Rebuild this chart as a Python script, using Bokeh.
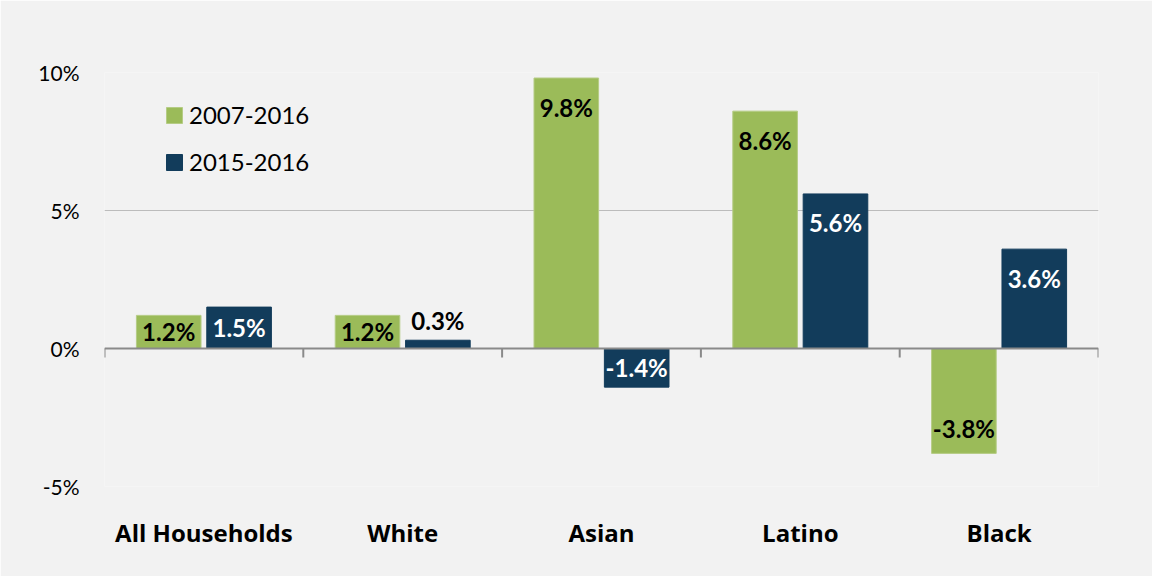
from bokeh.plotting import figure
from bokeh.models import (ColumnDataSource, FactorRange, FixedTicker, Span,
                          Legend, LegendItem)
from bokeh.transform import dodge
from bokeh.embed import file_html
from bokeh.resources import INLINE
from bokeh.core.properties import value

# ---- data ----
categories = ["All Households", "White", "Asian", "Latino", "Black"]
series_names = ["2007-2016", "2015-2016"]
change_2007_2016 = [1.2, 1.2, 9.8, 8.6, -3.8]
change_2015_2016 = [1.5, 0.3, -1.4, 5.6, 3.6]
y_ticks = [-5, 0, 5, 10]
y_tick_labels = ["-5%", "0%", "5%", "10%"]

GREEN = "#9bbb59"
NAVY = "#123c5b"
BG = "#f2f2f2"
FONT = "Lato"
CAT_FONT = "Open Sans"

FRAME_W, FRAME_H = 994, 414
Y_MIN, Y_MAX = -5, 10
px_per_unit = FRAME_H / (Y_MAX - Y_MIN)

p = figure(x_range=FactorRange(factors=categories, range_padding=0),
           y_range=(Y_MIN, Y_MAX),
           frame_width=FRAME_W, frame_height=FRAME_H,
           min_border_left=104, min_border_right=54,
           min_border_top=72, min_border_bottom=90,
           output_backend="svg", toolbar_location=None)
p.background_fill_color = BG
p.border_fill_color = BG
p.outline_line_color = None

# grid
p.xgrid.grid_line_color = None
p.ygrid.ticker = FixedTicker(ticks=y_ticks)
p.ygrid.grid_line_color = "#bcbcbc"
p.ygrid.grid_line_width = 1

# y axis
p.yaxis.ticker = FixedTicker(ticks=y_ticks)
p.yaxis.major_label_overrides = {t: l for t, l in zip(y_ticks, y_tick_labels)}
p.yaxis.axis_line_color = None
p.yaxis.major_tick_line_color = None
p.yaxis.minor_tick_line_color = None
p.yaxis.major_tick_out = 0
p.yaxis.major_label_standoff = 25
p.yaxis.major_label_text_font = FONT
p.yaxis.major_label_text_font_size = "21px"
p.yaxis.major_label_text_color = "#000000"

# x axis
p.xaxis.axis_line_color = None
p.xaxis.major_tick_line_color = None
p.xaxis.minor_tick_line_color = None
p.xaxis.major_tick_out = 0
p.xaxis.major_label_standoff = 29
p.xaxis.major_label_text_font = CAT_FONT
p.xaxis.major_label_text_font_style = "bold"
p.xaxis.major_label_text_font_size = "24px"
p.xaxis.major_label_text_color = "#000000"

# bars
src = ColumnDataSource(dict(cat=categories, a=change_2007_2016, b=change_2015_2016))
OFF, W = 0.177, 0.325
r_a = p.vbar(x=dodge("cat", -OFF, range=p.x_range), top="a", bottom=0, width=W,
             source=src, fill_color=GREEN, line_color="#b5cc85", line_width=1)
r_b = p.vbar(x=dodge("cat", OFF, range=p.x_range), top="b", bottom=0, width=W,
             source=src, fill_color=NAVY, line_color=NAVY, line_width=1)

# zero axis line + ticks at category boundaries
p.add_layout(Span(location=0, dimension="width", line_color="#8a8a8a", line_width=2))
bounds = list(range(len(categories) + 1))
tick_len = 9 / px_per_unit
p.segment(x0=bounds, x1=bounds, y0=[0] * len(bounds), y1=[-tick_len] * len(bounds),
          line_color="#8a8a8a", line_width=2)

# labels (y_offset in screen px: positive moves text down)
def label_rows(vals, inside_color):
    ys, txt, cols, yoff = [], [], [], []
    for v in vals:
        txt.append(f"{v:.1f}%")
        if abs(v) < 0.6:
            ys.append(v); yoff.append(-20); cols.append("#000000")
        elif abs(v) < 2:
            ys.append(v / 2); yoff.append(0); cols.append(inside_color)
        else:
            ys.append(v); yoff.append(29 if v > 0 else -25); cols.append(inside_color)
    return ys, txt, cols, yoff

for vals, off, col in [(change_2007_2016, -OFF, "#000000"), (change_2015_2016, OFF, "#ffffff")]:
    ys, txt, cols, yoff = label_rows(vals, col)
    lsrc = ColumnDataSource(dict(cat=categories, y=ys, text=txt, color=cols, yoff=yoff))
    p.text(x=dodge("cat", off, range=p.x_range), y="y", text="text", source=lsrc,
           text_color="color", y_offset="yoff", text_align="center",
           text_baseline="middle", text_font=value(FONT), text_font_style="bold",
           text_font_size="24px")

legend = Legend(items=[LegendItem(label=series_names[0], renderers=[r_a]),
                       LegendItem(label=series_names[1], renderers=[r_b])],
                location=(60, 310), orientation="vertical")
legend.background_fill_alpha = 0
legend.border_line_alpha = 0
legend.padding = 0
legend.margin = 0
legend.glyph_width = 20
legend.glyph_height = 20
legend.label_height = 24
legend.spacing = 18
legend.label_standoff = 5
legend.label_text_font = FONT
legend.label_text_font_size = "24px"
legend.label_text_color = "#000000"
p.add_layout(legend, "center")

open("out.html", "w").write(file_html(p, INLINE))
